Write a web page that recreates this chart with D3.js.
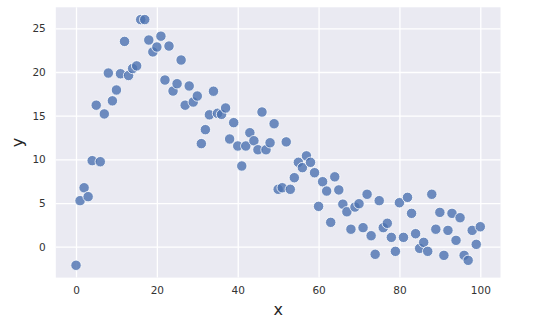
<!DOCTYPE html>
<html><head><meta charset="utf-8">
<script src="https://cdn.jsdelivr.net/npm/d3@7"></script>
<style>body{margin:0;background:#fff}svg{display:block}</style>
</head><body><svg id="c" width="550" height="321"></svg>
<script>
const xs = d3.range(0, 101);
const ys = [-2.13, 5.27, 6.75, 5.73, 9.85, 16.2, 9.73, 15.2, 19.88, 16.7,
  17.94, 19.8, 23.5, 19.6, 20.4, 20.7, 26.0, 26.0, 23.66, 22.3,
  22.86, 24.1, 19.08, 22.97, 17.82, 18.66, 21.37, 16.2, 18.4, 16.56,
  17.25, 11.8, 13.4, 15.1, 17.8, 15.27, 15.15, 15.88, 12.33, 14.2,
  11.53, 9.24, 11.53, 13.05, 12.13, 11.1, 15.42, 11.1, 11.9, 14.08,
  6.57, 6.75, 12.0, 6.57, 7.9, 9.66, 9.05, 10.4, 9.66, 8.47,
  4.62, 7.44, 6.37, 2.79, 8.0, 6.5, 4.87, 4.0, 2.0, 4.54,
  4.92, 2.18, 6.0, 1.26, -0.87, 5.27, 2.18, 2.68, 1.07, -0.53,
  5.04, 1.07, 5.65, 3.82, 1.49, -0.19, 0.5, -0.53, 6.0, 2.0,
  3.93, -0.99, 1.87, 3.82, 0.73, 3.32, -0.99, -1.56, 1.87, 0.27, 2.29];
const xTicks = [0, 20, 40, 60, 80, 100];
const yTicks = [0, 5, 10, 15, 20, 25];

const L = 55.8, R = 500.5, T = 7.3, B = 277.6;
const svg = d3.select("#c");
const xMin = d3.min(xs), xMax = d3.max(xs), yMin = d3.min(ys), yMax = d3.max(ys);
const xm = (xMax - xMin) * 0.05, ym = (yMax - yMin) * 0.05;
const x = d3.scaleLinear().domain([xMin - xm, xMax + xm]).range([L, R]);
const y = d3.scaleLinear().domain([yMin - ym, yMax + ym]).range([B, T]);

svg.append("rect").attr("x", L).attr("y", T).attr("width", R - L).attr("height", B - T).attr("fill", "#EAEAF2");

const gx = svg.append("g").attr("transform", `translate(0,${B})`)
  .call(d3.axisBottom(x).tickValues(xTicks).tickSize(-(B - T)).tickPadding(9).tickFormat(d3.format("d")));
const gy = svg.append("g").attr("transform", `translate(${L},0)`)
  .call(d3.axisLeft(y).tickValues(yTicks).tickSize(-(R - L)).tickPadding(10).tickFormat(d3.format("d")));
[gx, gy].forEach(g => {
  g.select(".domain").remove();
  g.selectAll(".tick line").attr("stroke", "#fff").attr("stroke-width", 1.3);
  g.selectAll(".tick text").attr("fill", "#333").attr("font-family", "DejaVu Sans").attr("font-size", 10.5);
});

svg.append("g").selectAll("circle").data(xs).join("circle")
  .attr("cx", (d) => x(d)).attr("cy", (d, i) => y(ys[i])).attr("r", 5.2)
  .attr("fill", "#4C72B0").attr("fill-opacity", 0.8)
  .attr("stroke", "#fff").attr("stroke-width", 0.8);

svg.append("text").attr("x", (L + R) / 2).attr("y", 315).attr("text-anchor", "middle")
  .attr("font-family", "DejaVu Sans").attr("font-size", 16).attr("fill", "#262626").text("x");
svg.append("text").attr("transform", `translate(23,${(T + B) / 2}) rotate(-90)`).attr("text-anchor", "middle")
  .attr("font-family", "DejaVu Sans").attr("font-size", 16).attr("fill", "#262626").text("y");
</script></body></html>
